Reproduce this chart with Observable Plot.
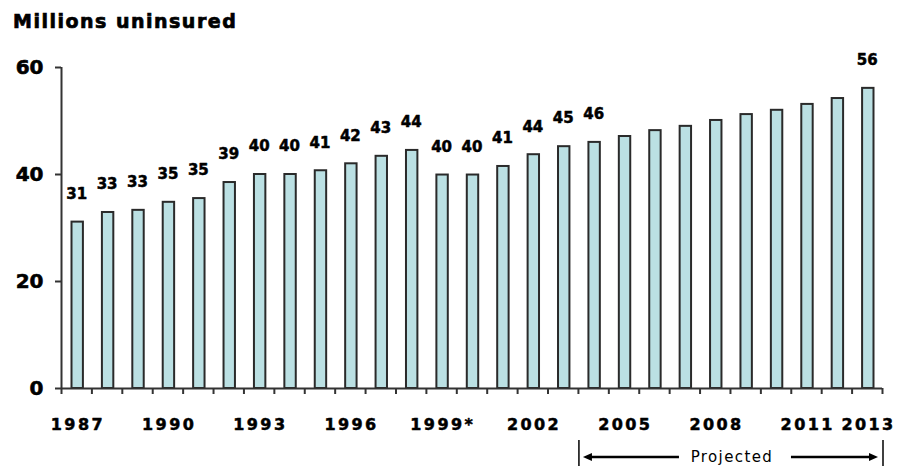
<!DOCTYPE html>
<html><head><meta charset="utf-8">
<script src="https://cdn.jsdelivr.net/npm/d3@7"></script>
<script src="https://cdn.jsdelivr.net/npm/@observablehq/plot@0.6"></script>
<style>
body{margin:0;background:#fff;}
#wrap{position:relative;width:898px;height:466px;}
#wrap svg{display:block;}
#title{position:absolute;left:13px;top:12px;font-family:"DejaVu Sans";font-weight:bold;font-size:19px;letter-spacing:1.5px;line-height:19px;color:#000;white-space:nowrap;-webkit-text-stroke:0.7px #000;}
</style></head><body>
<div id="wrap"><div id="title">Millions uninsured</div></div>
<script>
const years = [1987,1988,1989,1990,1991,1992,1993,1994,1995,1996,1997,1998,1999,2000,2001,2002,2003,2004,2005,2006,2007,2008,2009,2010,2011,2012,2013];
const values = [31.1,32.9,33.3,34.8,35.5,38.5,40.0,40.0,40.7,42.0,43.4,44.5,39.9,39.9,41.5,43.7,45.2,46.0,47.1,48.2,49.0,50.1,51.2,52.0,53.1,54.2,56.1];
const labels = ["31","33","33","35","35","39","40","40","41","42","43","44","40","40","41","44","45","46","","","","","","","","","56"];
const tickYears = [1987,1990,1993,1996,1999,2002,2005,2008,2011,2013];
const tickLabels = ["1987","1990","1993","1996","1999*","2002","2005","2008","2011","2013"];
const yTicks = [0,20,40,60];
const projectedStart = 2004, projectedEnd = 2013;
const projectedText = "Projected";

const data = years.map((year, i) => ({year, value: values[i], label: labels[i]}));
const boundaries = years.map(y => y - 0.5).concat([years[years.length - 1] + 0.5]);

const plot = Plot.plot({
  width: 898, height: 466,
  marginLeft: 61, marginRight: 16, marginTop: 67, marginBottom: 78,
  style: {fontFamily: "DejaVu Sans", background: "#fff", color: "#000"},
  x: {domain: [years[0] - 0.5, years[years.length - 1] + 0.5], axis: null},
  y: {domain: [0, 60], axis: null},
  marks: [
    Plot.rectY(data, {x1: d => d.year - 0.5, x2: d => d.year + 0.5, y: "value", insetLeft: 10.5, insetRight: 8.5, fill: "#BBE0E3", stroke: "#2a2a2a", strokeWidth: 2}),
    Plot.ruleX([years[0] - 0.5], {stroke: "#333", strokeWidth: 2}),
    Plot.ruleY([0], {stroke: "#333", strokeWidth: 2}),
    Plot.axisY({ticks: yTicks, tickSize: 6, tickPadding: 12, label: null, stroke: "#333", strokeWidth: 2, fontSize: 20, fontWeight: "bold", fill: "#000", textStroke: "#000", textStrokeWidth: 0.6}),
    Plot.axisX({ticks: boundaries, tickSize: 6, tickFormat: () => "", label: null, stroke: "#333", strokeWidth: 2}),
    Plot.axisX({ticks: tickYears, tickSize: 0, tickPadding: 30, label: null, tickFormat: d => tickLabels[tickYears.indexOf(d)], fontSize: 16, fontWeight: "bold", fill: "#000", textStroke: "#000", textStrokeWidth: 0.5, dx: 1.2}),
    Plot.text(data, {x: "year", y: "value", text: "label", dy: -28, fontSize: 15, fontWeight: "bold", fill: "#000", stroke: "#000", strokeWidth: 0.5})
  ]
});

document.getElementById("wrap").appendChild(plot);
const svg = d3.select(plot);
svg.selectAll('g[aria-label="x-axis tick label"] text').style("letter-spacing", "2.4px");

// Projected annotation, positioned with the plot's x scale
const sx = plot.scale("x");
const xL = sx.apply(projectedStart - 0.5), xR = sx.apply(projectedEnd + 0.5);
const mid = (xL + xR) / 2 + 2;
const g = svg.append("g").attr("class", "projected");
g.append("line").attr("x1", xL + 1).attr("x2", xL + 1).attr("y1", 440).attr("y2", 466).attr("stroke", "#000").attr("stroke-width", 1.5);
g.append("line").attr("x1", xR + 1).attr("x2", xR + 1).attr("y1", 440).attr("y2", 466).attr("stroke", "#000").attr("stroke-width", 1.5);
g.append("text").attr("x", mid).attr("y", 462).attr("text-anchor", "middle")
  .style("font-family", "DejaVu Sans").style("font-size", "15px").style("letter-spacing", "1.4px").attr("fill", "#000").text(projectedText);
const half = 41;
const lEnd = mid - half - 12, rStart = mid + half + 18;
const ay = 457;
g.append("line").attr("x1", lEnd).attr("x2", xL + 12).attr("y1", ay).attr("y2", ay).attr("stroke", "#000").attr("stroke-width", 2.5);
g.append("path").attr("d", `M${xL + 5},${ay} L${xL + 14},${ay - 4} L${xL + 14},${ay + 4} Z`).attr("fill", "#000");
g.append("line").attr("x1", rStart).attr("x2", xR - 12).attr("y1", ay).attr("y2", ay).attr("stroke", "#000").attr("stroke-width", 2.5);
g.append("path").attr("d", `M${xR - 4},${ay} L${xR - 13},${ay - 4} L${xR - 13},${ay + 4} Z`).attr("fill", "#000");
</script>
</body></html>
